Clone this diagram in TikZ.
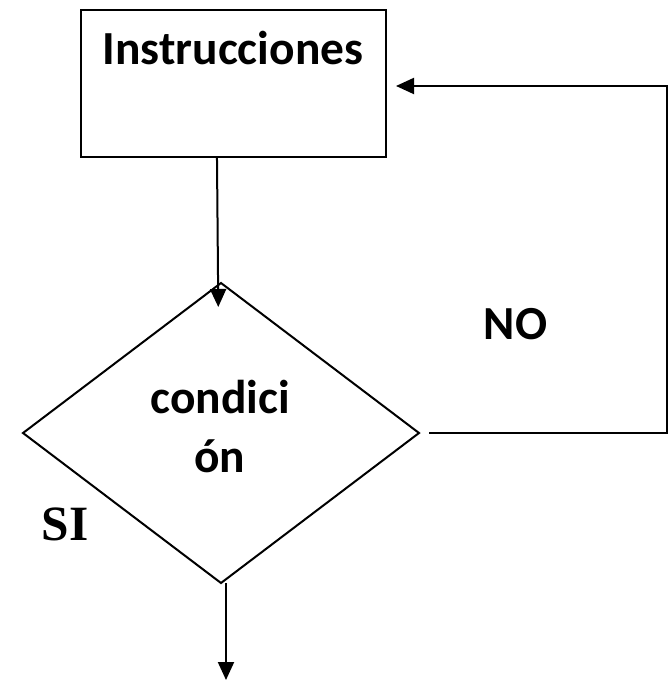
\documentclass[tikz,border=0pt]{standalone}
\usepackage{fontspec}
\setmainfont{Carlito}
\newfontfamily\siserif{Liberation Serif}
\usetikzlibrary{arrows.meta,shapes.geometric}

\tikzset{every picture/.style={line width=1.5pt}}
\tikzset{
  box/.style={draw, rectangle, inner sep=0pt, outer sep=0pt, minimum width=228.75pt, minimum height=110.25pt},
  decision/.style={draw, diamond, inner sep=0pt, outer sep=0pt, minimum width=297pt, minimum height=225pt},
  lbl/.style={inner sep=0pt, font=\fontsize{35.6}{44}\selectfont\bfseries},
  arr/.style={-{Triangle[length=13.5pt,width=12pt]}}
}

\begin{document}
\begin{tikzpicture}[x=0.75pt,y=0.75pt,yscale=-1,xscale=1]
\useasboundingbox (0,0) rectangle (671,681);

%Shape: Rectangle
\node[box] (instr) at (233.5,83.5) {};
%Shape: Diamond
\node[decision] (dia) at (221,433) {};

% Text Node
\node[lbl, anchor=base] (instrtxt) at (233,65) {Instrucciones};
% Text Node
\node[lbl, anchor=base] (cond1) at (220,413) {condici};
\node[lbl, anchor=base] (cond2) at (219.5,472) {ón};
% Text Node
\node[lbl, anchor=base] (no) at (515.5,339) {NO};
% Text Node
\node[inner sep=0pt, anchor=base, font=\fontsize{37}{44}\selectfont\siserif\bfseries] (si) at (65,540) {SI};

\coordinate (loop) at (667,86);
\coordinate (out) at (226,680);

%Straight Lines
\draw[arr, shorten >=-18pt] ([xshift=-12.4pt]instr.south) -- ([xshift=-2.2pt]dia.north);
%Straight Lines
\draw[arr, shorten <=7.5pt, shorten >=7.5pt] (dia.east) -| (loop) -- (instr.east |- loop);
%Straight Lines
\draw[arr] (dia.south -| out) -- (out);

\end{tikzpicture}
\end{document}
